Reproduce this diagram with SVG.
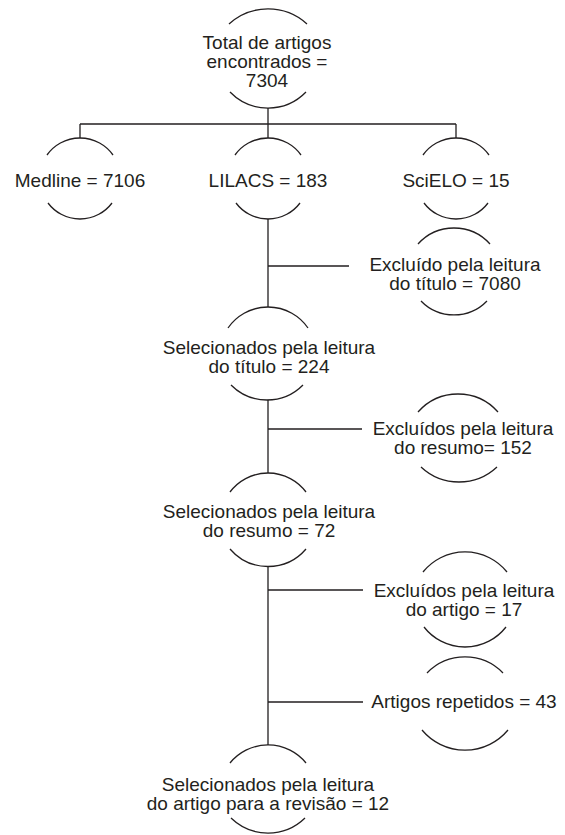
<svg xmlns="http://www.w3.org/2000/svg" width="565" height="835" viewBox="0 0 565 835">
<style>
.arc{fill:none;stroke:#231f20;stroke-width:1.3}
.ln{fill:none;stroke:#231f20;stroke-width:1.3}
text{font-family:"Liberation Sans",Arial,sans-serif;font-size:19px;fill:#231f20;text-anchor:middle}
</style>
<rect width="565" height="835" fill="#ffffff"/>
<g id="connectors">
<path class="ln" d="M268,108 V124 M80,124 H456 M80,124 V138 M268,124 V138 M456,124 V138"/>
<path class="ln" d="M268,219 V307 M268,266 H349"/>
<path class="ln" d="M268,400 V473 M268,429 H362"/>
<path class="ln" d="M268,567 V745 M268,590 H363 M268,702 H363"/>
</g>
<g id="total">
<path class="arc" d="M229,24 A58,58 0 0,1 307,24"/>
<path class="arc" d="M230,92 A53,53 0 0,0 306,92"/>
<text x="267" y="49">Total de artigos</text>
<text x="267" y="68">encontrados =</text>
<text x="267" y="87">7304</text>
</g>
<g id="medline">
<path class="arc" d="M47,155 A40.5,40.5 0 0,1 113,155"/>
<path class="arc" d="M48,203 A40,40 0 0,0 112,203"/>
<text x="80" y="187">Medline = 7106</text>
</g>
<g id="lilacs">
<path class="arc" d="M235,155 A40.5,40.5 0 0,1 301,155"/>
<path class="arc" d="M236,203 A40,40 0 0,0 300,203"/>
<text x="268" y="187">LILACS = 183</text>
</g>
<g id="scielo">
<path class="arc" d="M423,155 A40.5,40.5 0 0,1 489,155"/>
<path class="arc" d="M424,203 A40,40 0 0,0 488,203"/>
<text x="456" y="187">SciELO = 15</text>
</g>
<g id="excl-titulo">
<path class="arc" d="M418,244 A48.5,48.5 0 0,1 490,244"/>
<path class="arc" d="M421,301 A46,46 0 0,0 487,301"/>
<text x="455" y="271">Excluído pela leitura</text>
<text x="455" y="290">do título = 7080</text>
</g>
<g id="sel-titulo">
<path class="arc" d="M228,328 A48.6,48.6 0 0,1 308,328"/>
<path class="arc" d="M231,385 A50.7,50.7 0 0,0 303,385"/>
<text x="269" y="354">Selecionados pela leitura</text>
<text x="269" y="373">do título = 224</text>
</g>
<g id="excl-resumo">
<path class="arc" d="M418,412 A53.4,53.4 0 0,1 498,412"/>
<path class="arc" d="M421,467 A55.6,55.6 0 0,0 497,467"/>
<text x="463" y="435">Excluídos pela leitura</text>
<text x="463" y="454">do resumo= 152</text>
</g>
<g id="sel-resumo">
<path class="arc" d="M230,492 A47.5,47.5 0 0,1 306,492"/>
<path class="arc" d="M230,549 A50,50 0 0,0 306,549"/>
<text x="269" y="518">Selecionados pela leitura</text>
<text x="269" y="537">do resumo = 72</text>
</g>
<g id="excl-artigo">
<path class="arc" d="M423,572 A54,54 0 0,1 507,572"/>
<path class="arc" d="M424,627 A52,52 0 0,0 506,627"/>
<text x="464" y="597">Excluídos pela leitura</text>
<text x="464" y="616">do artigo = 17</text>
</g>
<g id="repetidos">
<path class="arc" d="M427,673 A53,53 0 0,1 503,673"/>
<path class="arc" d="M422,730 A56,56 0 0,0 508,730"/>
<text x="464" y="708">Artigos repetidos = 43</text>
</g>
<g id="sel-artigo">
<path class="arc" d="M230,763 A49,49 0 0,1 306,763"/>
<path class="arc" d="M231,818 A53,53 0 0,0 305,818"/>
<text x="268" y="791">Selecionados pela leitura</text>
<text x="268" y="810">do artigo para a revisão = 12</text>
</g>
</svg>
